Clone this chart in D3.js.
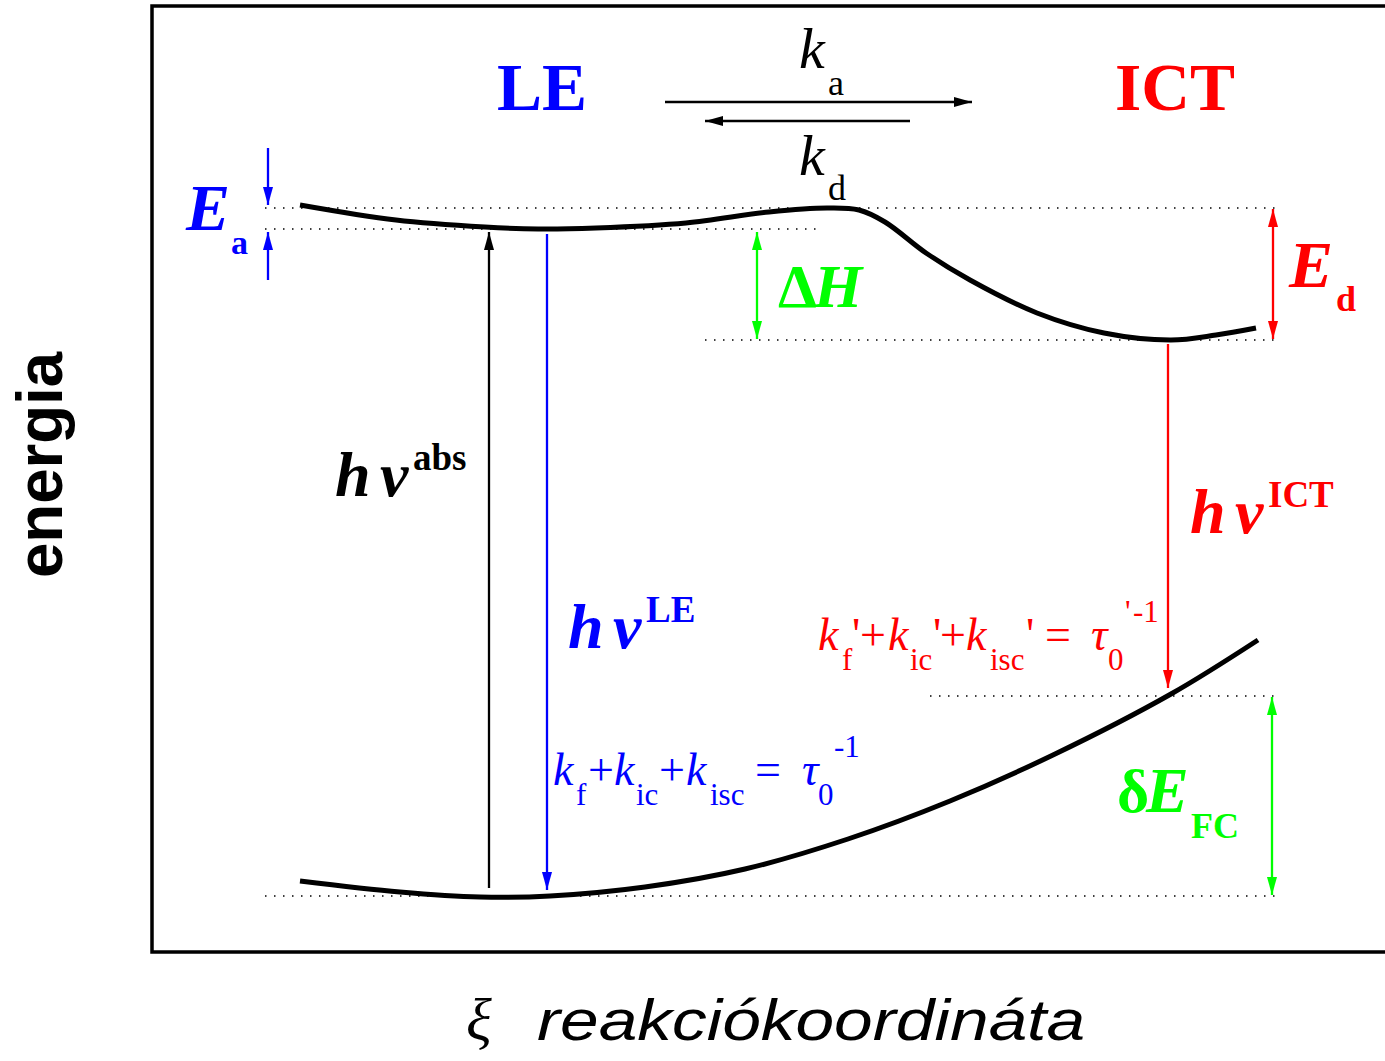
<!DOCTYPE html>
<html>
<head>
<meta charset="utf-8">
<script src="https://d3js.org/d3.v7.min.js"></script>
<style>
body { margin: 0; background: #fff; }
</style>
</head>
<body>
<div id="chart"></div>
<script>
// excited state potential (LE well -> barrier -> ICT well), xi vs energy
var xiExcited = [1.48, 2.44, 3.33, 3.86, 4.44, 5.34, 6.17, 6.75, 7.07, 7.33, 7.74, 8.18, 8.85, 9.52, 10.19, 10.64, 11.04];
var energyExcited = [7.47, 7.32, 7.25, 7.23, 7.24, 7.29, 7.40, 7.44, 7.42, 7.30, 6.99, 6.72, 6.39, 6.19, 6.12, 6.17, 6.24];

// ground state potential
var xiGround = [1.48, 2.48, 3.28, 3.98, 4.93, 5.93, 6.96, 7.98, 9.01, 10.19, 11.06];
var energyGround = [0.71, 0.60, 0.55, 0.56, 0.65, 0.83, 1.13, 1.51, 1.97, 2.58, 3.12];

// dotted reference levels: barrier, LE min, ICT min, franck-condon, ground min
var levelEnergy = [7.44, 7.23, 6.12, 2.56, 0.56];
var levelFrom = [1.13, 1.13, 5.53, 7.78, 1.13];
var levelTo = [11.23, 6.66, 11.23, 11.23, 11.23];

// arrows: Ea (2), absorption, LE emission, dH, Ed, ICT emission, dE_FC, ka, kd
var arrowKind = ["LE", "LE", "abs", "LE", "gap", "ICT", "ICT", "gap", "abs", "abs"];
var arrowXi1 = [1.16, 1.16, 3.37, 3.95, 6.05, 11.21, 10.16, 11.20, 5.13, 7.58];
var arrowE1 = [8.04, 6.72, 0.64, 7.18, 7.20, 7.43, 6.08, 2.55, 8.50, 8.31];
var arrowXi2 = [1.16, 1.16, 3.37, 3.95, 6.05, 11.21, 10.16, 11.20, 8.20, 5.53];
var arrowE2 = [7.47, 7.20, 7.20, 0.62, 6.13, 6.13, 2.64, 0.57, 8.50, 8.31];
var arrowDouble = [false, false, false, false, true, true, false, true, false, false];

var serif = "'Liberation Serif', 'Times New Roman', serif";
var sans = "'Liberation Sans', Arial, sans-serif";

EnergyVis = function(_parentElement) {
    this.parentElement = _parentElement;
    this.initVis();
}

EnergyVis.prototype.initVis = function() {
    var vis = this;

    vis.margin = { top: 6, right: 0, bottom: 109, left: 152 };
    vis.width = 1385 - vis.margin.left - vis.margin.right;
    vis.height = 1061 - vis.margin.top - vis.margin.bottom;

    vis.root = d3.select("#" + vis.parentElement).append("svg")
        .attr("width", 1385)
        .attr("height", 1061);
    vis.svg = vis.root.append("g")
        .attr("transform", "translate(" + vis.margin.left + "," + vis.margin.top + ")");

    // scales (100 px per unit)
    vis.x = d3.scaleLinear().domain([0, 12.33]).range([0, vis.width]);
    vis.y = d3.scaleLinear().domain([0, 9.46]).range([vis.height, 0]);

    vis.color = d3.scaleOrdinal()
        .domain(["abs", "LE", "ICT", "gap"])
        .range(["#000000", "#0000ff", "#ff0000", "#00ff00"]);

    // arrow heads
    var defs = vis.root.append("defs");
    vis.color.domain().forEach(function(k) {
        defs.append("marker")
            .attr("id", "head-" + k)
            .attr("viewBox", "0 0 18 10")
            .attr("refX", 18)
            .attr("refY", 5)
            .attr("markerWidth", 18)
            .attr("markerHeight", 10)
            .attr("markerUnits", "userSpaceOnUse")
            .attr("orient", "auto-start-reverse")
            .append("path")
            .attr("d", "M0,0 L18,5 L0,10 Z")
            .attr("fill", vis.color(k));
    });

    vis.drawFrame();
    vis.drawLevels();
    vis.drawCurves();
    vis.drawArrows();
    vis.drawLabels();
}

EnergyVis.prototype.drawFrame = function() {
    var vis = this;
    var xr = vis.x.range(), yr = vis.y.range();

    vis.svg.append("path")
        .attr("d", "M" + xr[1] + "," + yr[1] + "H" + xr[0] + "V" + yr[0] + "H" + xr[1])
        .attr("fill", "none")
        .attr("stroke", "#000")
        .attr("stroke-width", 3.5);
}

EnergyVis.prototype.drawLevels = function() {
    var vis = this;

    vis.svg.selectAll(".level")
        .data(levelEnergy)
        .enter()
        .append("line")
        .attr("class", "level")
        .attr("x1", function(d, i) { return vis.x(levelFrom[i]); })
        .attr("x2", function(d, i) { return vis.x(levelTo[i]); })
        .attr("y1", function(d) { return vis.y(d); })
        .attr("y2", function(d) { return vis.y(d); })
        .attr("stroke", "#000")
        .attr("stroke-width", 1.5)
        .attr("stroke-dasharray", "1.5,7.5");
}

EnergyVis.prototype.drawCurves = function() {
    var vis = this;

    var line = d3.line()
        .x(function(d) { return vis.x(d[0]); })
        .y(function(d) { return vis.y(d[1]); })
        .curve(d3.curveCatmullRom.alpha(0.5));

    var curves = [
        d3.zip(xiExcited, energyExcited),
        d3.zip(xiGround, energyGround)
    ];

    vis.svg.selectAll(".pes")
        .data(curves)
        .enter()
        .append("path")
        .attr("class", "pes")
        .attr("d", line)
        .attr("fill", "none")
        .attr("stroke", "#000")
        .attr("stroke-width", 5)
        .attr("stroke-linecap", "butt");
}

EnergyVis.prototype.drawArrows = function() {
    var vis = this;

    vis.svg.selectAll(".arrow")
        .data(arrowKind)
        .enter()
        .append("line")
        .attr("class", "arrow")
        .attr("x1", function(d, i) { return vis.x(arrowXi1[i]); })
        .attr("y1", function(d, i) { return vis.y(arrowE1[i]); })
        .attr("x2", function(d, i) { return vis.x(arrowXi2[i]); })
        .attr("y2", function(d, i) { return vis.y(arrowE2[i]); })
        .attr("stroke", function(d) { return vis.color(d); })
        .attr("stroke-width", 2.3)
        .attr("marker-end", function(d) { return "url(#head-" + d + ")"; })
        .attr("marker-start", function(d, i) { return arrowDouble[i] ? "url(#head-" + d + ")" : null; });
}

function addText(parent, x, y, str, size, o) {
    o = o || {};
    var t = parent.append("text")
        .attr("x", x)
        .attr("y", y)
        .style("font-family", o.family || serif)
        .style("font-size", size + "px")
        .style("font-weight", o.weight || "normal")
        .style("font-style", o.style || "normal")
        .style("fill", o.fill || "#000")
        .text(str);
    if (o.len) t.attr("textLength", o.len).attr("lengthAdjust", "spacingAndGlyphs");
    return t;
}

// rate-constant sum written piece by piece: [text, x, kind]
function addFormula(parent, pieces, base, fill) {
    pieces.forEach(function(p) {
        var kind = p[2];
        var size = kind == "sub" || kind == "sup" ? 31 : 46;
        var y = kind == "sub" ? base + 20 : (kind == "sup" ? base - 28 : base);
        addText(parent, p[1], y, p[0], size, {
            fill: fill,
            style: kind == "it" ? "italic" : "normal"
        });
    });
}

EnergyVis.prototype.drawLabels = function() {
    var vis = this;
    var g = vis.root.append("g");

    // state names
    addText(g, 497, 110, "LE", 68, { weight: "bold", fill: "#0000ff", len: 90 });
    addText(g, 1115, 110, "ICT", 68, { weight: "bold", fill: "#ff0000", len: 120 });

    // rate constants
    addText(g, 799, 68, "k", 58, { style: "italic" });
    addText(g, 828, 95, "a", 36);
    addText(g, 799, 175, "k", 58, { style: "italic" });
    addText(g, 828, 200, "d", 36);

    // activation energies and enthalpy
    addText(g, 186, 230, "E", 66, { weight: "bold", style: "italic", fill: "#0000ff" });
    addText(g, 231, 254, "a", 34, { weight: "bold", fill: "#0000ff" });
    addText(g, 1289, 287, "E", 66, { weight: "bold", style: "italic", fill: "#ff0000" });
    addText(g, 1336, 311, "d", 36, { weight: "bold", fill: "#ff0000" });
    addText(g, 778, 307, "\u0394", 62, { weight: "bold", fill: "#00ff00" });
    addText(g, 814, 307, "H", 62, { weight: "bold", style: "italic", fill: "#00ff00" });
    addText(g, 1117, 812, "\u03b4", 62, { weight: "bold", fill: "#00ff00" });
    addText(g, 1146, 812, "E", 64, { weight: "bold", style: "italic", fill: "#00ff00" });
    addText(g, 1191, 838, "FC", 36, { weight: "bold", fill: "#00ff00" });

    // photon energies
    var hv = [["abs", 335, 496, "#000000"], ["LE", 568, 648, "#0000ff"], ["ICT", 1190, 533, "#ff0000"]];
    hv.forEach(function(h) {
        addText(g, h[1], h[2], "h", 64, { weight: "bold", style: "italic", fill: h[3] });
        addText(g, h[1] + 45, h[2], "\u03bd", 64, { weight: "bold", style: "italic", fill: h[3] });
        addText(g, h[1] + 78, h[2] - 26, h[0], 37, { weight: "bold", fill: h[3] });
    });

    // lifetimes
    addFormula(g, [
        ["k", 553, "it"], ["f", 576, "sub"], ["+", 588, ""], ["k", 614, "it"], ["ic", 636, "sub"],
        ["+", 659, ""], ["k", 686, "it"], ["isc", 710, "sub"], ["=", 755, ""], ["\u03c4", 802, "it"],
        ["0", 818, "sub"], ["-1", 834, "sup"]
    ], 785, "#0000ff");
    addFormula(g, [
        ["k", 818, "it"], ["f", 842, "sub"], ["'", 852, ""], ["+", 860, ""], ["k", 888, "it"],
        ["ic", 910, "sub"], ["'", 933, ""], ["+", 940, ""], ["k", 966, "it"], ["isc", 990, "sub"],
        ["'", 1026, ""], ["=", 1045, ""], ["\u03c4", 1091, "it"], ["0", 1108, "sub"],
        ["'", 1125, "sup"], ["-1", 1133, "sup"]
    ], 650, "#ff0000");

    // axis titles
    addText(g, 0, 0, "energia", 64, { family: sans, weight: "bold", len: 226 })
        .attr("transform", "translate(62,465) rotate(-90)")
        .style("text-anchor", "middle");
    addText(g, 466, 1040, "\u03be", 60, { style: "italic" });
    addText(g, 537, 1040, "reakciókoordináta", 58, { family: sans, style: "italic", len: 548 });
}

new EnergyVis("chart");
</script>
</body>
</html>
